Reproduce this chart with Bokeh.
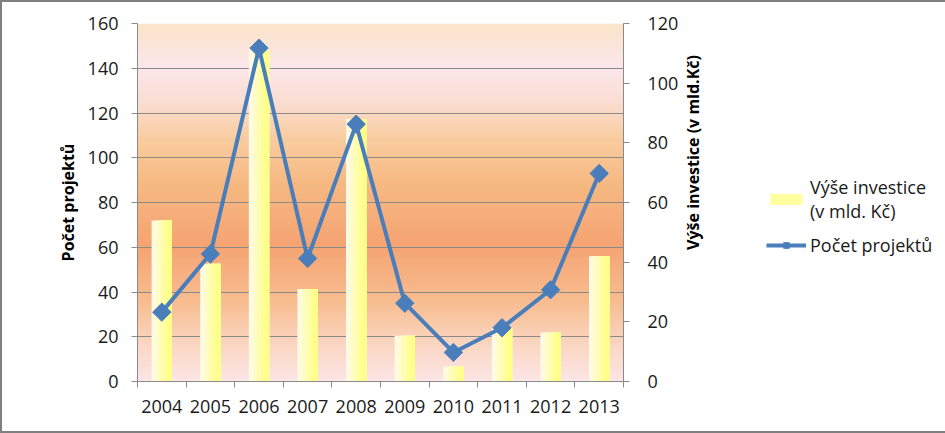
import math
import numpy as np
from bokeh.plotting import figure
from bokeh.layouts import row
from bokeh.models import (Range1d, LinearAxis, FixedTicker, Legend, LegendItem,
                          ColumnDataSource, Label)
from bokeh.transform import dodge
from bokeh.embed import file_html
from bokeh.resources import INLINE

# ---- data ----
years = ["2004", "2005", "2006", "2007", "2008", "2009", "2010", "2011", "2012", "2013"]
investice = [54, 39.5, 111, 31, 88, 15.3, 5, 18, 16.4, 42]     # v mld. Kč (right axis)
projekty = [31, 57, 149, 55, 115, 35, 13, 24, 41, 93]          # počet projektů (left axis)
left_ticks = [0, 20, 40, 60, 80, 100, 120, 140, 160]
right_ticks = [0, 20, 40, 60, 80, 100, 120]

FONT = "Open Sans"
GRID = "#8a8a8a"
BLUE = "#4a7ebb"

N = len(years)
xpos = [i + 0.5 for i in range(N)]   # category centres
src = ColumnDataSource(dict(x=xpos, year=years, inv=investice, proj=projekty))

p = figure(x_range=Range1d(0, N), y_range=Range1d(0, 160), frame_width=486, frame_height=358,
           output_backend="svg", toolbar_location=None,
           min_border_left=135, min_border_right=55, min_border_top=21, min_border_bottom=50,
           x_axis_location=None, y_axis_location="left")
p.extra_y_ranges = {"inv": Range1d(0, 120)}
p.background_fill_color = "white"
p.border_fill_color = "white"
p.outline_line_color = None

# ---- background gradient (decoration) ----
stops = [(0.0, (250, 228, 202)), (0.12, (252, 231, 236)), (0.22, (251, 222, 210)),
         (0.32, (249, 205, 160)), (0.45, (247, 185, 130)), (0.62, (245, 164, 114)),
         (0.78, (248, 190, 145)), (0.9, (251, 215, 195)), (1.0, (252, 230, 230))]
n = 200
t = np.linspace(1, 0, n)  # row 0 is bottom
sp = np.array([s[0] for s in stops])
cols = np.array([s[1] for s in stops], dtype=float)
rgb = np.stack([np.interp(t, sp, cols[:, k]) for k in range(3)], axis=1).astype(np.uint32)
img = np.empty((n, 1), dtype=np.uint32)
img[:, 0] = (255 << 24) | (rgb[:, 2] << 16) | (rgb[:, 1] << 8) | rgb[:, 0]
bg = p.image_rgba(image=[img], x=0, y=0, dw=N, dh=160, level="image")

# ---- grid ----
p.ygrid.ticker = FixedTicker(ticks=left_ticks)
p.ygrid.grid_line_color = GRID
p.ygrid.level = "underlay"
p.xgrid.grid_line_color = None

# ---- bars with horizontal gradient (overlapping layers, right edges aligned) ----
slice_cols = ["#fffbe2", "#fffcc8", "#fffdaf", "#ffff98", "#ffff88"]
bw = 0.42
ns = len(slice_cols)
for i, c in enumerate(slice_cols):
    w = bw * (1 - i / ns)
    off = bw / 2 - w / 2
    p.vbar(x=dodge("x", off), top="inv", width=w, bottom=0,
           source=src, y_range_name="inv", fill_color=c, line_color=None)

# ---- line ----
p.line(x="x", y="proj", source=src, line_color=BLUE, line_width=4)
p.scatter(x="x", y="proj", source=src, marker="square", angle=np.pi / 4, size=13,
          fill_color=BLUE, line_color=BLUE)

# ---- axes ----
def style_axis(ax):
    ax.axis_line_color = GRID
    ax.major_tick_line_color = GRID
    ax.minor_tick_line_color = None
    ax.major_tick_in = 0
    ax.major_tick_out = 6
    ax.major_label_text_font = FONT
    ax.major_label_text_font_size = "18px"
    ax.major_label_text_color = "#1a1a1a"
    ax.axis_label_text_font = FONT
    ax.axis_label_text_font_size = "16px"
    ax.axis_label_text_font_style = "bold"
    ax.axis_label_text_color = "#000000"

yl = p.yaxis[0]
style_axis(yl)
yl.ticker = FixedTicker(ticks=left_ticks)
yl.axis_label = "Počet projektů"
yl.major_label_standoff = 13
yl.axis_label_standoff = 6

yr = LinearAxis(y_range_name="inv", ticker=FixedTicker(ticks=right_ticks))
style_axis(yr)
yr.major_label_standoff = 18
p.add_layout(yr, "right")

xb = LinearAxis(ticker=FixedTicker(ticks=list(range(N + 1))))
style_axis(xb)
xb.major_label_text_font_size = "0px"
xb.major_label_standoff = 0
xb.major_label_overrides = {i: "" for i in range(N + 1)}
p.add_layout(xb, "below")

xc = LinearAxis(ticker=FixedTicker(ticks=xpos))
style_axis(xc)
xc.major_label_overrides = {x: y for x, y in zip(xpos, years)}
xc.axis_line_color = None
xc.major_tick_out = 0
xc.major_tick_line_color = None
xc.major_label_standoff = 12
p.add_layout(xc, "below")

# ---- side panel: right axis title + legend ----
W2 = 941 - (135 + 486 + 55)
# ranges chosen so the series themselves stay out of view; they only feed the legend glyphs
p2 = figure(width=W2, height=429, x_range=Range1d(-20, -19), y_range=Range1d(-20, -19),
            output_backend="svg", toolbar_location=None, min_border=0,
            x_axis_location=None, y_axis_location=None)
p2.grid.visible = False
p2.outline_line_color = None
p2.background_fill_color = "white"
p2.border_fill_color = "white"

lg_bar = p2.vbar(x="x", top="inv", width=0.4, source=src, fill_color="#ffffa0", line_color=None)
lg_line = p2.line(x="x", y="proj", source=src, line_color=BLUE, line_width=4)
lg_mk = p2.scatter(x="x", y="proj", source=src, marker="square", angle=np.pi / 4, size=13,
                   fill_color=BLUE, line_color=BLUE)

p2.add_layout(Label(x=11, y=229, x_units="screen", y_units="screen", angle=math.pi / 2,
                    text="Výše investice (v mld.Kč)", text_align="center",
                    text_baseline="middle", text_font=FONT, text_font_size="16px",
                    text_font_style="bold", text_color="#000000"))

legend = Legend(items=[LegendItem(label="Výše investice\n(v mld. Kč)", renderers=[lg_bar]),
                       LegendItem(label="Počet projektů", renderers=[lg_line, lg_mk])],
                location=(85, 124), label_text_font=FONT, label_text_font_size="18px",
                label_text_color="#1a1a1a", glyph_width=40, glyph_height=14,
                label_standoff=4, spacing=10, border_line_color=None,
                background_fill_alpha=0, margin=0, padding=0)
p2.add_layout(legend)

lay = row(p, p2, spacing=0)
lay.styles = {"border": "2px solid #7f7f7f"}

open("out.html", "w").write(file_html(lay, INLINE))
